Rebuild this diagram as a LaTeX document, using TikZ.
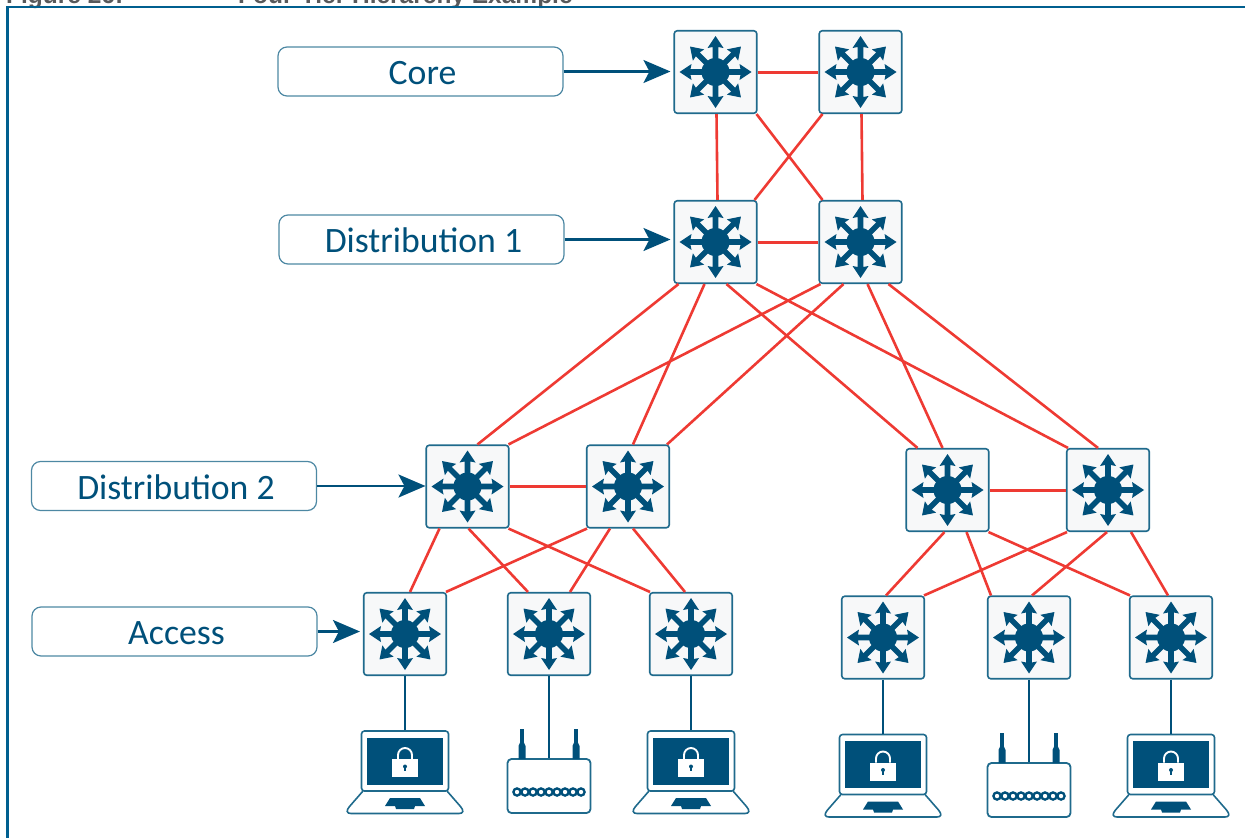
\documentclass[tikz,border=0pt]{standalone}
\usepackage{fontspec}
\setmainfont{Carlito}
\newfontfamily\titlefont{Liberation Sans}
\usetikzlibrary{arrows.meta}

\definecolor{ciscoblue}{HTML}{00507A}
\definecolor{boxstroke}{HTML}{1F6A8C}
\definecolor{framestroke}{HTML}{005F8F}
\definecolor{labelstroke}{HTML}{4D88A3}
\definecolor{linkred}{HTML}{EE3A33}
\definecolor{boxfill}{HTML}{F7F8F9}
\definecolor{titlegray}{HTML}{58595B}

\newcommand{\redlink}[4]{\draw[red link] ([xshift=#2pt]#1.south) -- ([xshift=#4pt]#3.north);}

\tikzset{
  hub/.pic={
    \fill[ciscoblue] (0,0) circle (14);
    \foreach \a in {0,45,...,315}
      \fill[ciscoblue,rotate=\a] (0,-2.8) -- (25,-2.8) -- (24,-8) -- (36,0) -- (24,8) -- (25,2.8) -- (0,2.8) -- cycle;
  },
  laptop/.pic={
    \fill[ciscoblue] (-38,-23.5) rectangle (38,23.5);
    \fill[white] (-13,-2) rectangle (13,16);
    \draw[white,line width=1.9] (-7,-2) -- (-7,-6) arc[start angle=180,end angle=360,radius=7] -- (7,-2);
    \fill[ciscoblue] (0,5.5) circle (2);
    \fill[ciscoblue] (-0.9,5.5) rectangle (0.9,10);
    \draw[boxstroke,line width=1.6] (-42,30) -- (-55.5,45.5) .. controls (-59,49.5) and (-58.5,52.5) .. (-54,52.5) -- (54,52.5) .. controls (58.5,52.5) and (59,49.5) .. (55.5,45.5) -- (42,30);
    \fill[ciscoblue] (-15,37) -- (15,37) -- (20,45) -- (10,45) -- (9,48) -- (-9,48) -- (-10,45) -- (-20,45) -- cycle;
  },
  router/.pic={
    \fill[ciscoblue] (-28.7,-57) rectangle (-25.3,-44);
    \fill[ciscoblue] (-30.5,-27) -- (-30.5,-40) -- (-28.7,-44) -- (-25.3,-44) -- (-23.5,-40) -- (-23.5,-27) -- cycle;
    \fill[ciscoblue] (25.3,-57) rectangle (28.7,-44);
    \fill[ciscoblue] (23.5,-27) -- (23.5,-40) -- (25.3,-44) -- (28.7,-44) -- (30.5,-40) -- (30.5,-27) -- cycle;
    \foreach \x in {-32,-24,...,32}
      \draw[ciscoblue,line width=2.3,fill=white] (\x,6) circle (3.6);
  }
}

\begin{document}
\begin{tikzpicture}[x=1pt,y=-1pt, node distance=145pt,
                    switch node/.style={rectangle,draw=boxstroke,fill=boxfill,line width=1.6pt,rounded corners=3pt,minimum size=82.5pt,inner sep=0pt},
                    label node/.style={rectangle,draw=labelstroke,line width=1.2pt,rounded corners=9pt,minimum width=285pt,minimum height=49pt,inner sep=0pt,text=ciscoblue,text height=26pt,text depth=0pt,execute at begin node=\hspace{4pt},font=\fontsize{35.7}{40}\selectfont},
                    laptop node/.style={rectangle,draw=boxstroke,line width=1.6pt,rounded corners=3pt,minimum width=87pt,minimum height=60pt,inner sep=0pt},
                    router node/.style={rectangle,draw=boxstroke,line width=1.8pt,rounded corners=4pt,minimum width=83pt,minimum height=54pt,inner sep=0pt},
                    title node/.style={anchor=base west,inner sep=0pt,text=titlegray,font=\titlefont\bfseries\fontsize{24.5}{28}\selectfont},
                    blue arrow/.style={draw=ciscoblue,line width=2.4pt,-{Stealth[length=27pt,width=23pt,inset=6pt]}},
                    blue link/.style={draw=ciscoblue,line width=2.5pt},
                    red link/.style={draw=linkred,line width=2.6pt}]

  \clip (0,0) rectangle (1245,838);

  \node[title node] (figno) at (6,3) {Figure 26:};
  \node[title node] (title) at (238,3) {Four-Tier Hierarchy Example};
  \draw[framestroke,line width=2.5pt] (7.5,838) -- (7.5,7) -- (1245,7);

  \node[switch node] (c1) at (715.5,72) {};
  \node[switch node] (c2) [right of=c1] {};
  \node[switch node] (d1) [below of=c1,node distance=170pt] {};
  \node[switch node] (d2) [right of=d1] {};

  \node[switch node] (e1) at (467.5,486.5) {};
  \node[switch node] (e2) [right of=e1,node distance=160.5pt] {};
  \node[switch node] (e3) at (947.5,490) {};
  \node[switch node] (e4) [right of=e3,node distance=160.5pt] {};

  \node[switch node] (a1) at (405,634) {};
  \node[switch node] (a2) [right of=a1,node distance=144pt] {};
  \node[switch node] (a3) [right of=a2,node distance=142pt] {};
  \node[switch node] (a4) at (883,637.5) {};
  \node[switch node] (a5) [right of=a4,node distance=146pt] {};
  \node[switch node] (a6) [right of=a5,node distance=142pt] {};

  \pic at (c1) {hub};
  \pic at (c2) {hub};
  \pic at (d1) {hub};
  \pic at (d2) {hub};
  \pic at (e1) {hub};
  \pic at (e2) {hub};
  \pic at (e3) {hub};
  \pic at (e4) {hub};
  \pic at (a1) {hub};
  \pic at (a2) {hub};
  \pic at (a3) {hub};
  \pic at (a4) {hub};
  \pic at (a5) {hub};
  \pic at (a6) {hub};

  \node[laptop node] (l1) at (405,761) {};
  \node[router node] (r1) at (549,786) {};
  \node[laptop node] (l2) at (691,761) {};
  \node[laptop node] (l3) at (883,764.5) {};
  \node[router node] (r2) at (1029,790) {};
  \node[laptop node] (l4) at (1171,764.5) {};

  \pic at (l1) {laptop};
  \pic at (r1) {router};
  \pic at (l2) {laptop};
  \pic at (l3) {laptop};
  \pic at (r2) {router};
  \pic at (l4) {laptop};

  \node[label node] (core) at (420.5,71.5) {Core};
  \node[label node] (dist1) at (421.5,239.5) {Distribution 1};
  \node[label node] (dist2) at (174,486) {Distribution 2};
  \node[label node] (access) at (174.5,631.5) {Access};

  \draw[blue arrow,shorten >=3pt] (core.east) -- (core.east -| c1.west);
  \draw[blue arrow,shorten >=3pt] (dist1.east) -- (dist1.east -| d1.west);
  \draw[blue arrow] (dist2.east) -- (dist2.east -| e1.west);
  \draw[blue arrow,shorten >=3pt] (access.east) -- (access.east -| a1.west);

  \draw[red link,line width=3pt] (c1.east) -- (c2.west);
  \draw[red link,line width=3pt] (d1.east) -- (d2.west);
  \draw[red link,line width=3pt] (e1.east) -- (e2.west);
  \draw[red link,line width=3pt] (e3.east) -- (e4.west);

  \redlink{c1}{1}{d1}{2}
  \redlink{c1}{41}{d2}{-38}
  \redlink{c2}{-38}{d1}{39}
  \redlink{c2}{1}{d2}{2}

  \redlink{d1}{-37}{e1}{10}
  \redlink{d1}{-11}{e2}{5}
  \redlink{d1}{11}{e3}{-30}
  \redlink{d1}{41}{e4}{-40}
  \redlink{d2}{-40}{e1}{41}
  \redlink{d2}{-17}{e2}{39}
  \redlink{d2}{7}{e3}{-5}
  \redlink{d2}{28}{e4}{-10}

  \redlink{e1}{-28}{a1}{5}
  \redlink{e1}{1}{a2}{-21}
  \redlink{e1}{41}{a3}{-41}
  \redlink{e2}{-41}{a1}{41}
  \redlink{e2}{-18}{a2}{21}
  \redlink{e2}{5}{a3}{-6}
  \redlink{e3}{-3}{a4}{3}
  \redlink{e3}{19}{a5}{-38}
  \redlink{e3}{41}{a6}{-41}
  \redlink{e4}{-41}{a4}{41}
  \redlink{e4}{-1}{a5}{3}
  \redlink{e4}{23}{a6}{-3}

  \draw[blue link] (a1.south) -- (l1.north);
  \draw[blue link] (a2.south) -- (r1.north);
  \draw[blue link] (a3.south) -- (l2.north);
  \draw[blue link] (a4.south) -- (l3.north);
  \draw[blue link] (a5.south) -- (r2.north);
  \draw[blue link] (a6.south) -- (l4.north);

\end{tikzpicture}
\end{document}
